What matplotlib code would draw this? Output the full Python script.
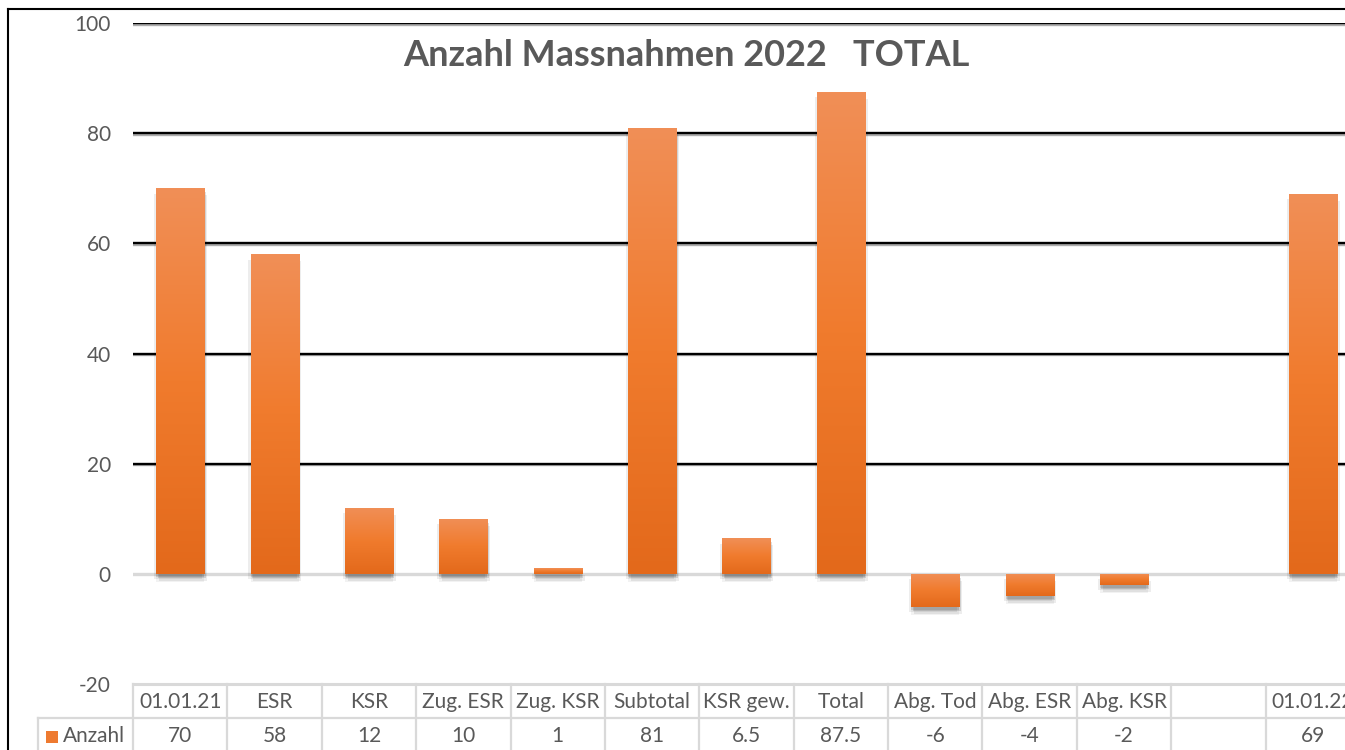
import numpy as np
import matplotlib
matplotlib.use("Agg")
import matplotlib.pyplot as plt
import matplotlib.patheffects as pe
from matplotlib.colors import LinearSegmentedColormap
from matplotlib.lines import Line2D
from matplotlib.patches import Rectangle
import matplotlib.transforms as mtransforms

categories = ["01.01.21", "ESR", "KSR", "Zug. ESR", "Zug. KSR", "Subtotal", "KSR gew.",
              "Total", "Abg. Tod", "Abg. ESR", "Abg. KSR", "", "01.01.22"]
values = [70, 58, 12, 10, 1, 81, 6.5, 87.5, -6, -4, -2, None, 69]
value_labels = ["70", "58", "12", "10", "1", "81", "6.5", "87.5", "-6", "-4", "-2", "", "69"]
series_name = "Anzahl"
title = "Anzahl Massnahmen 2022   TOTAL"
yticks = [-20, 0, 20, 40, 60, 80, 100]

W, H = 1345, 750
plt.rcParams['font.family'] = ['Lato', 'DejaVu Sans']
TXT = '#595959'
GRID_LIGHT = '#D9D9D9'
FS = 15

fig = plt.figure(figsize=(W / 100, H / 100), dpi=100)
fig.patch.set_facecolor('white')

ax_left, ax_right = 133, 1360
ax_top, ax_bottom = 23, 684
ax = fig.add_axes([ax_left / W, 1 - ax_bottom / H, (ax_right - ax_left) / W, (ax_bottom - ax_top) / H])
ax.set_facecolor('none')
n = len(categories)
ax.set_xlim(-0.5, n - 0.5)
ax.set_ylim(-20, 100)
for s in ax.spines.values():
    s.set_visible(False)
ax.set_xticks([])
ax.set_yticks(yticks)
ax.set_yticklabels([str(t) for t in yticks], color=TXT, fontsize=FS)
ax.tick_params(axis='y', length=0, pad=16)

# gridlines
for t in yticks:
    if t > 0:
        ax.axhline(t, color='black', lw=1.7, zorder=1,
                   path_effects=[pe.SimpleLineShadow(offset=(0, -1.2), shadow_color='#777777', alpha=0.6),
                                 pe.Normal()])
ax.axhline(0, color=GRID_LIGHT, lw=2.4, zorder=1)

# bars with gradient
cmap = LinearSegmentedColormap.from_list('og', ['#E3691B', '#F07B2D', '#F18F57'])
grad = np.linspace(0, 1, 256).reshape(-1, 1)
bw = 0.51
xs = np.arange(n)
for x, v in zip(xs, values):
    if v is None:
        continue
    bars = ax.bar(x, v, width=bw, color='#EE7A30', zorder=2, linewidth=0)
    patch = bars[0]
    patch.set_path_effects([
        pe.SimplePatchShadow(offset=(0, -6), shadow_rgbFace='#000000', alpha=0.05),
        pe.SimplePatchShadow(offset=(2, -5), shadow_rgbFace='#000000', alpha=0.07),
        pe.SimplePatchShadow(offset=(-1.5, -4), shadow_rgbFace='#000000', alpha=0.07),
        pe.SimplePatchShadow(offset=(1, -3), shadow_rgbFace='#000000', alpha=0.12),
        pe.SimplePatchShadow(offset=(0, -2), shadow_rgbFace='#000000', alpha=0.10),
        pe.Normal()])
    y0, y1 = min(0, v), max(0, v)
    im = ax.imshow(grad, extent=(x - bw / 2, x + bw / 2, y0, y1), origin='lower',
                   cmap=cmap, aspect='auto', zorder=3, interpolation='bilinear')
    im.set_clip_path(patch)
ax.set_xlim(-0.5, n - 0.5)
ax.set_ylim(-20, 100)

# title
fig.text(686 / W, 1 - 56 / H, title, ha='center', va='center', fontsize=26,
         fontweight='bold', color=TXT)

# data table
tr = mtransforms.blended_transform_factory(ax.transData, fig.transFigure)
def fy(px):
    return 1 - px / H
row1_top, row1_bot, row2_bot = 684, 718, 753
lc = GRID_LIGHT
ax.add_line(Line2D([-0.5, n - 0.5], [fy(row1_top)] * 2, transform=tr, color=lc, lw=2.2, clip_on=False))
for i in range(n + 1):
    ax.add_line(Line2D([i - 0.5] * 2, [fy(row1_top), fy(row2_bot)], transform=tr, color=lc, lw=1.6, clip_on=False))
fig.add_artist(Line2D([38 / W, 1.02], [fy(row1_bot)] * 2, color=lc, lw=1.6))
fig.add_artist(Line2D([38 / W] * 2, [fy(row1_bot), fy(row2_bot)], color=lc, lw=1.6))

for i, (c, vl) in enumerate(zip(categories, value_labels)):
    ax.text(i, fy((row1_top + row1_bot) / 2 + 1), c, transform=tr, ha='center', va='center',
            fontsize=FS, color=TXT, clip_on=False)
    ax.text(i, fy((row1_bot + row2_bot) / 2 + 1), vl, transform=tr, ha='center', va='center',
            fontsize=FS, color=TXT, clip_on=False)

# legend key in table
fig.add_artist(Rectangle((46 / W, fy(743)), 12 / W, 12 / H, transform=fig.transFigure,
                         facecolor='#EE7A30', edgecolor='none'))
fig.text(63 / W, fy(736), series_name, ha='left', va='center', fontsize=FS, color=TXT)

# outer chart frame
fig.add_artist(Line2D([8 / W, 8 / W], [fy(9), 0], color='black', lw=1.5))
fig.add_artist(Line2D([8 / W, 1], [fy(9), fy(9)], color='black', lw=1.5))

fig.savefig('out.png', dpi=100, facecolor='white')
